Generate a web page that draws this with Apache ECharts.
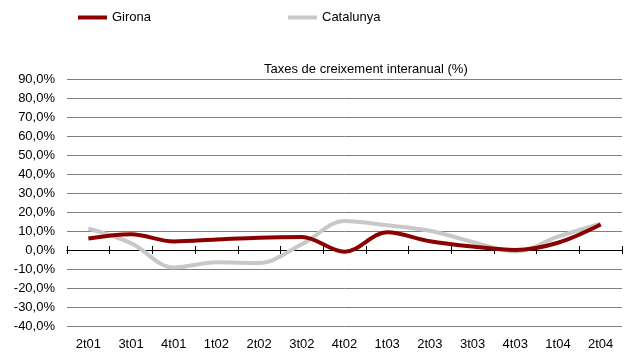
<!DOCTYPE html>
<html>
<head>
<meta charset="utf-8">
<script src="https://cdn.jsdelivr.net/npm/echarts@6/dist/echarts.min.js"></script>
<style>
  html, body { margin: 0; padding: 0; background: #fff; }
  #chart { width: 628px; height: 355px; }
</style>
</head>
<body>
<div id="chart"></div>
<script>
// Quarterly year-on-year growth rates (%)
const quarters = ['2t01', '3t01', '4t01', '1t02', '2t02', '3t02', '4t02', '1t03', '2t03', '3t03', '4t03', '1t04', '2t04'];
const girona =    [6.0, 8.3, 4.5, 5.5, 6.5, 6.8, -0.9, 9.3, 4.6, 1.8, 0.0, 3.8, 13.4];
const catalunya = [11.3, 3.6, -9.2, -6.5, -6.8, 3.0, 15.3, 13.0, 10.1, 4.3, -0.8, 7.0, 13.8];
const yMin = -40, yMax = 90, yStep = 10;

const chart = echarts.init(document.getElementById('chart'), null, { renderer: 'canvas' });
const font = '"Liberation Sans", Arial, sans-serif';

// Helper axes that draw the zero line with ticks crossing it on both sides
const hiddenAxisBase = {
  type: 'category',
  data: quarters,
  boundaryGap: true,
  axisLabel: { show: false },
  splitLine: { show: false },
  axisLine: { show: true, onZero: true, onZeroAxisIndex: 0, lineStyle: { color: '#000', width: 1 } }
};

chart.setOption({
  animation: false,
  backgroundColor: '#fff',
  textStyle: { fontFamily: font },
  title: {
    text: 'Taxes de creixement interanual (%)',
    left: 259, top: 58,
    textStyle: { fontFamily: font, fontSize: 13, fontWeight: 'normal', color: '#000' }
  },
  legend: [
    {
      data: ['Girona'], left: 78, top: 11, padding: 0, icon: 'rect', itemWidth: 29, itemHeight: 4,
      textStyle: { fontFamily: font, fontSize: 13, color: '#000' }
    },
    {
      data: ['Catalunya'], left: 288, top: 11, padding: 0, icon: 'rect', itemWidth: 29, itemHeight: 4,
      textStyle: { fontFamily: font, fontSize: 13, color: '#000' }
    }
  ],
  grid: { left: 67, right: 6, top: 79, bottom: 29, containLabel: false },
  xAxis: [
    {
      type: 'category', data: quarters, position: 'bottom', boundaryGap: true,
      axisLine: { show: false, onZero: false }, axisTick: { show: false },
      axisLabel: { fontFamily: font, fontSize: 13, color: '#000', margin: 12, interval: 0 },
      splitLine: { show: false }
    },
    Object.assign({}, hiddenAxisBase, { position: 'bottom', axisTick: { show: true, inside: false, length: 4, lineStyle: { color: '#000' } } }),
    Object.assign({}, hiddenAxisBase, { position: 'bottom', axisTick: { show: true, inside: true, length: 4, lineStyle: { color: '#000' } } })
  ],
  yAxis: {
    type: 'value', min: yMin, max: yMax, interval: yStep,
    axisLine: { show: false }, axisTick: { show: false },
    axisLabel: {
      fontFamily: font, fontSize: 13, color: '#000', margin: 12,
      formatter: v => v.toFixed(1).replace('.', ',') + '%'
    },
    splitLine: { show: true, lineStyle: { color: '#7f7f7f', width: 1 } }
  },
  series: [
    {
      name: 'Girona', type: 'line', data: girona, smooth: 0.35, symbol: 'none',
      lineStyle: { color: '#8b0000', width: 4 }, itemStyle: { color: '#8b0000' }, z: 3
    },
    {
      name: 'Catalunya', type: 'line', data: catalunya, smooth: 0.35, symbol: 'none',
      lineStyle: { color: '#c8c8c8', width: 4 }, itemStyle: { color: '#c8c8c8' }, z: 2
    }
  ]
});
</script>
</body>
</html>
